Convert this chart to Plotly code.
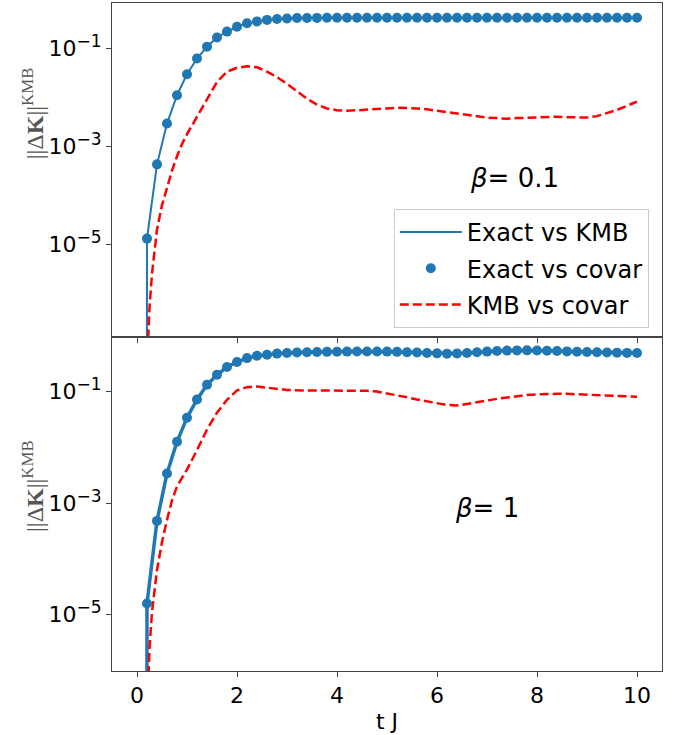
import plotly.graph_objects as go
from plotly.subplots import make_subplots

# ---------------- data ----------------
t_points = [0.0, 0.2, 0.4, 0.6, 0.8, 1.0, 1.2, 1.4, 1.6, 1.8, 2.0,
            2.2, 2.4, 2.6, 2.8, 3.0, 3.2, 3.4, 3.6, 3.8, 4.0,
            4.2, 4.4, 4.6, 4.8, 5.0, 5.2, 5.4, 5.6, 5.8, 6.0,
            6.2, 6.4, 6.6, 6.8, 7.0, 7.2, 7.4, 7.6, 7.8, 8.0,
            8.2, 8.4, 8.6, 8.8, 9.0, 9.2, 9.4, 9.6, 9.8, 10.0]

# beta = 0.1
exact_vs_kmb_b01 = [0.0, 1.3e-5, 4.3e-4, 2.95e-3, 1.12e-2, 3.0e-2, 6.3e-2, 0.110, 0.170, 0.224, 0.282,
                    0.331, 0.363, 0.389, 0.407, 0.417, 0.424, 0.427, 0.428, 0.429, 0.429,
                    0.429, 0.429, 0.429, 0.429, 0.429, 0.429, 0.429, 0.429, 0.429, 0.429,
                    0.429, 0.429, 0.429, 0.429, 0.429, 0.429, 0.429, 0.429, 0.429, 0.429,
                    0.429, 0.429, 0.429, 0.429, 0.429, 0.429, 0.429, 0.429, 0.429, 0.429]
exact_vs_covar_b01 = list(exact_vs_kmb_b01)

# beta = 1
exact_vs_kmb_b1 = [0.0, 1.58e-5, 4.8e-4, 3.4e-3, 1.26e-2, 3.4e-2, 7.2e-2, 0.132, 0.200, 0.275, 0.339,
                   0.398, 0.437, 0.457, 0.479, 0.490, 0.500, 0.507, 0.512, 0.515, 0.518,
                   0.520, 0.521, 0.522, 0.522, 0.520, 0.515, 0.508, 0.500, 0.492, 0.484,
                   0.477, 0.480, 0.490, 0.505, 0.520, 0.533, 0.542, 0.547, 0.548, 0.545,
                   0.540, 0.533, 0.525, 0.518, 0.510, 0.505, 0.500, 0.496, 0.493, 0.490]
exact_vs_covar_b1 = list(exact_vs_kmb_b1)

t_kmb_covar = [0.0, 0.2, 0.25, 0.3, 0.4, 0.5, 0.6, 0.7, 0.8, 0.9, 1.0,
               1.2, 1.4, 1.6, 1.8, 2.0, 2.2, 2.4, 2.6, 2.8, 3.0,
               3.2, 3.4, 3.6, 3.8, 4.0, 4.2, 4.4, 4.6, 4.8, 5.0,
               5.2, 5.4, 5.6, 5.8, 6.0, 6.2, 6.4, 6.6, 6.8, 7.0,
               7.2, 7.4, 7.6, 7.8, 8.0, 8.2, 8.4, 8.6, 8.8, 9.0,
               9.2, 9.4, 9.6, 9.8, 10.0]

kmb_vs_covar_b01 = [0.0, 3.2e-8, 5.0e-7, 2.5e-6, 2.0e-5, 6.3e-5, 1.41e-4, 3.2e-4, 6.3e-4, 1.12e-3, 1.78e-3,
                    3.98e-3, 9.5e-3, 2.09e-2, 3.39e-2, 4.07e-2, 4.37e-2, 4.17e-2, 3.39e-2, 2.63e-2, 1.91e-2,
                    1.35e-2, 9.5e-3, 7.2e-3, 6.0e-3, 5.5e-3, 5.4e-3, 5.5e-3, 5.6e-3, 5.9e-3, 6.0e-3,
                    6.2e-3, 6.2e-3, 6.0e-3, 5.75e-3, 5.4e-3, 5.0e-3, 4.7e-3, 4.4e-3, 4.1e-3, 3.9e-3,
                    3.8e-3, 3.7e-3, 3.8e-3, 3.9e-3, 3.98e-3, 4.07e-3, 4.07e-3, 3.98e-3, 3.9e-3, 3.9e-3,
                    4.17e-3, 4.8e-3, 5.6e-3, 6.8e-3, 8.3e-3]

kmb_vs_covar_b1 = [0.0, 1.0e-7, 2.5e-6, 1.12e-5, 6.3e-5, 2.0e-4, 5.0e-4, 1.12e-3, 2.0e-3, 2.8e-3, 4.0e-3,
                   8.9e-3, 2.09e-2, 4.17e-2, 7.1e-2, 0.105, 0.120, 0.123, 0.117, 0.112, 0.107,
                   0.105, 0.105, 0.105, 0.105, 0.105, 0.105, 0.104, 0.103, 0.100, 0.093,
                   0.087, 0.079, 0.072, 0.066, 0.062, 0.0575, 0.056, 0.060, 0.065, 0.069,
                   0.074, 0.078, 0.083, 0.087, 0.089, 0.091, 0.091, 0.091, 0.089, 0.089,
                   0.087, 0.085, 0.083, 0.082, 0.081]

x_ticks = [0, 2, 4, 6, 8, 10]
y_ticks = [1e-5, 1e-3, 1e-1]
y_ticktext = ["10<sup><span style='font-size:17px'>\u22125</span></sup>",
              "10<sup><span style='font-size:17px'>\u22123</span></sup>",
              "10<sup><span style='font-size:17px'>\u22121</span></sup>"]
beta_labels = ["<i>\u03b2</i>= 0.1", "<i>\u03b2</i>= 1"]
ylabel = "||\u0394<b>K</b>||<sup>KMB</sup>"

# emulate matplotlib's clipping of non-positive values on log axes
CLIP = 1e-300
def clip(vals):
    return [v if v > 0 else CLIP for v in vals]

BLUE = "#1f77b4"
FONT = "DejaVu Sans"

fig = make_subplots(rows=2, cols=1, shared_xaxes=True, vertical_spacing=0)

panels = [
    (1, exact_vs_kmb_b01, exact_vs_covar_b01, kmb_vs_covar_b01, 2.0, True),
    (2, exact_vs_kmb_b1, exact_vs_covar_b1, kmb_vs_covar_b1, 3.5, False),
]
for row, ek, ec, kc, lw, show in panels:
    fig.add_trace(go.Scatter(x=t_points, y=clip(ek), mode="lines",
                             line=dict(color=BLUE, width=lw),
                             name="Exact vs KMB", showlegend=show, legendgroup="a"),
                  row=row, col=1)
    fig.add_trace(go.Scatter(x=t_points[1:], y=ec[1:], mode="markers",
                             marker=dict(color=BLUE, size=10),
                             name="Exact vs covar", showlegend=show, legendgroup="b"),
                  row=row, col=1)
    fig.add_trace(go.Scatter(x=t_kmb_covar, y=clip(kc), mode="lines",
                             line=dict(color="red", width=2.5, dash="9px,4px"),
                             name="KMB vs covar", showlegend=show, legendgroup="c"),
                  row=row, col=1)

axis_common = dict(showline=True, mirror=True, linecolor="#444", linewidth=1,
                   ticks="outside", ticklen=5, tickcolor="#444", tickwidth=1,
                   showgrid=False, zeroline=False,
                   tickfont=dict(family=FONT, size=22, color="black"))

fig.update_xaxes(range=[-0.5, 10.5], tickvals=x_ticks, **axis_common)
fig.update_xaxes(showticklabels=False, row=1, col=1)
fig.update_xaxes(title=dict(text="t J", font=dict(family=FONT, size=22, color="black"), standoff=6),
                 row=2, col=1)
fig.update_yaxes(type="log", tickvals=y_ticks, ticktext=y_ticktext, **axis_common)
fig.update_yaxes(range=[-6.90, -0.064], row=1, col=1)
fig.update_yaxes(range=[-6.01, -0.022], row=2, col=1)

annotations = [
    dict(text=ylabel, xref="paper", yref="paper", x=-0.1436, y=0.835, textangle=-90,
         showarrow=False, xanchor="center", yanchor="middle",
         font=dict(family="Liberation Serif", size=24, color="#555")),
    dict(text=ylabel, xref="paper", yref="paper", x=-0.1436, y=0.277, textangle=-90,
         showarrow=False, xanchor="center", yanchor="middle",
         font=dict(family="Liberation Serif", size=24, color="#555")),
    dict(text=beta_labels[0], xref="x", yref="y", x=7.54, y=-3.64, showarrow=False,
         font=dict(family=FONT, size=26, color="black")),
    dict(text=beta_labels[1], xref="x2", yref="y2", x=7.0, y=-3.09, showarrow=False,
         font=dict(family=FONT, size=26, color="black")),
]

fig.update_layout(
    width=678, height=735,
    margin=dict(l=112, r=16, t=3, b=64),
    plot_bgcolor="white", paper_bgcolor="white",
    annotations=annotations,
    legend=dict(x=0.976, y=0.6916, xanchor="right", yanchor="top",
                bgcolor="rgba(255,255,255,0.8)", bordercolor="#ccc", borderwidth=1,
                font=dict(family=FONT, size=24, color="black"),
                traceorder="grouped", tracegroupgap=2, itemwidth=62),
)

fig.write_html("out.html", config={"displayModeBar": False},
               post_script="document.body.style.margin='0px';")
